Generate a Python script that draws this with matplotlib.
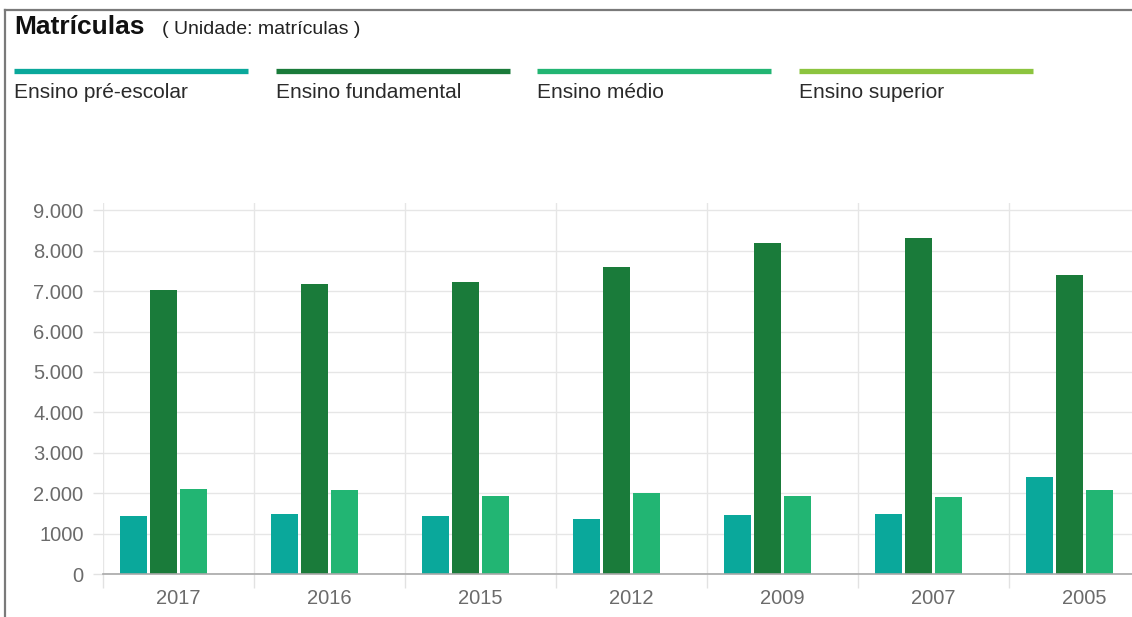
import numpy as np
import matplotlib
matplotlib.use("Agg")
import matplotlib.pyplot as plt
from matplotlib.lines import Line2D
from matplotlib.ticker import FixedLocator, FixedFormatter

plt.rcParams['font.family'] = ['Liberation Sans', 'DejaVu Sans']

# data
anos = ["2017", "2016", "2015", "2012", "2009", "2007", "2005"]
series = ["Ensino pré-escolar", "Ensino fundamental", "Ensino médio", "Ensino superior"]
pre_escolar = [1440, 1480, 1440, 1360, 1460, 1490, 2400]
fundamental = [7030, 7170, 7230, 7600, 8190, 8310, 7400]
medio = [2110, 2080, 1930, 2010, 1930, 1900, 2070]
superior = [0, 0, 0, 0, 0, 0, 0]
cores = ["#0aa89b", "#1a7b3a", "#22b573", "#8cc43f"]
yticks = [0, 1000, 2000, 3000, 4000, 5000, 6000, 7000, 8000, 9000]
ylabels = ["0", "1000", "2.000", "3.000", "4.000", "5.000", "6.000", "7.000", "8.000", "9.000"]

W, H = 1132, 617
fig = plt.figure(figsize=(W / 100, H / 100), dpi=100)
fig.patch.set_facecolor("white")

# plot area goes past the right edge, like the cropped reference
ax = fig.add_axes([103 / W, 1 - 574 / H, 1057 / W, 371 / H])
x = np.arange(len(anos))
slot = 0.199
valores = [pre_escolar, fundamental, medio, superior]
for i, (vals, cor) in enumerate(zip(valores, cores)):
    ax.bar(x + (i - 1.5) * slot, vals, width=0.179, color=cor, zorder=3)

ax.set_xlim(-0.5, len(anos) - 0.5)
ax.set_ylim(0, 9180)
for s in ["top", "right", "left"]:
    ax.spines[s].set_visible(False)
ax.spines["bottom"].set_color("#a8a8a8")
ax.spines["bottom"].set_linewidth(1.2)
ax.spines["bottom"].set_zorder(4)

ax.set_yticks(yticks)
ax.set_yticklabels(ylabels)
ax.tick_params(axis="y", length=7, color="#e2e2e2", width=1, pad=7,
               labelsize=14.5, labelcolor="#6b6b6b")
ax.grid(axis="y", color="#e6e6e6", linewidth=1, zorder=0)

# category boundaries as major x ticks / gridlines, labels on minor ticks
ax.xaxis.set_major_locator(FixedLocator(np.arange(len(anos) + 1) - 0.5))
ax.xaxis.set_major_formatter(FixedFormatter([""] * (len(anos) + 1)))
ax.xaxis.set_minor_locator(FixedLocator(x))
ax.xaxis.set_minor_formatter(FixedFormatter(anos))
ax.tick_params(axis="x", which="major", length=10, color="#e2e2e2", width=1)
ax.tick_params(axis="x", which="minor", length=0, pad=11, labelsize=14.5,
               labelcolor="#6b6b6b")
ax.grid(axis="x", which="major", color="#e6e6e6", linewidth=1, zorder=0)

# title
fig.text(14 / W, 1 - 34 / H, "Matrículas", fontsize=19, fontweight="bold",
         color="#111111", va="baseline")
fig.text(162 / W, 1 - 34 / H, "( Unidade: matrículas )", fontsize=14,
         color="#222222", va="baseline")

# legend across the top
for i, (nome, cor) in enumerate(zip(series, cores)):
    x0 = 14 + i * 261.7
    fig.add_artist(Line2D([x0 / W, (x0 + 234) / W], [1 - 71 / H, 1 - 71 / H],
                          color=cor, linewidth=3.8, solid_capstyle="butt"))
    fig.text(x0 / W, 1 - 93 / H, nome, fontsize=15, color="#2a2a2a", va="center")

# grey frame of the screenshot
fig.add_artist(Line2D([5 / W, 1], [1 - 10 / H, 1 - 10 / H], color="#7a7a7a", linewidth=1.6))
fig.add_artist(Line2D([5 / W, 5 / W], [0, 1 - 10 / H], color="#7a7a7a", linewidth=1.6))

fig.savefig("out.png", dpi=100)
